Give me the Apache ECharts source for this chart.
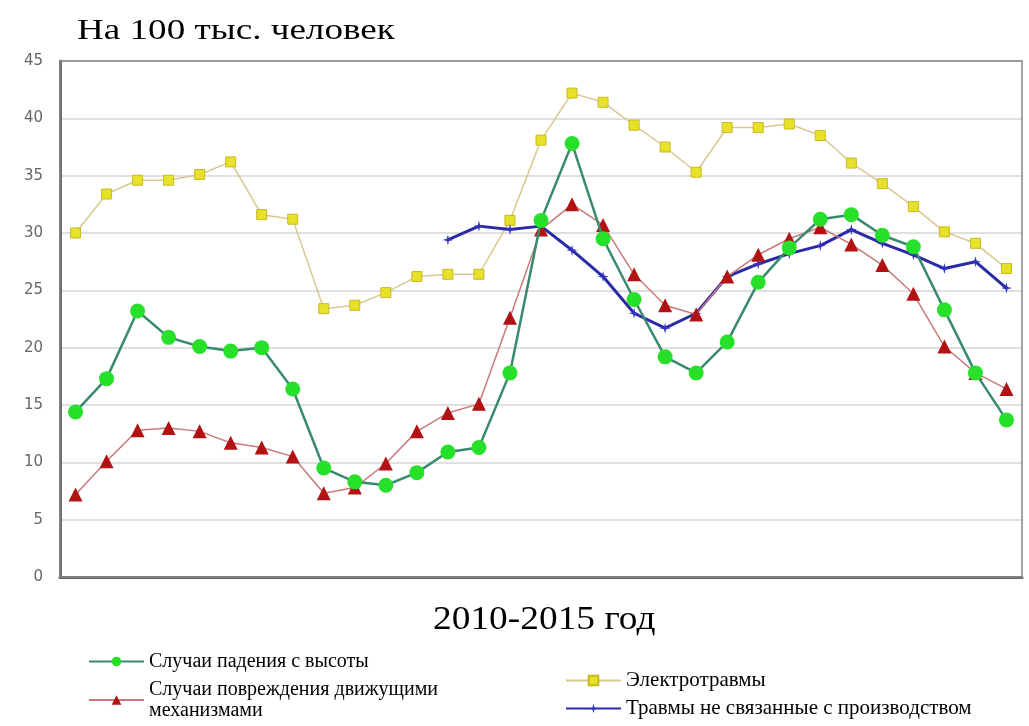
<!DOCTYPE html>
<html>
<head>
<meta charset="utf-8">
<script src="https://cdn.jsdelivr.net/npm/echarts@6/dist/echarts.min.js"></script>
<style>
  html, body { margin: 0; padding: 0; background: #fff; }
  #chart { width: 1029px; height: 726px; }
</style>
</head>
<body>
<div id="chart"></div>
<script>
// Observation periods, 2010-2015
const periods = ['1','2','3','4','5','6','7','8','9','10','11','12','13','14','15','16',
  '17','18','19','20','21','22','23','24','25','26','27','28','29','30','31'];

// Injuries per 100 thousand people
const falls = [14.4, 17.3, 23.2, 20.9, 20.1, 19.7, 20.0, 16.4, 9.5, 8.3, 8.0, 9.1, 10.9, 11.3,
  17.8, 31.1, 37.8, 29.5, 24.2, 19.2, 17.8, 20.5, 25.7, 28.7, 31.2, 31.6, 29.8, 28.8, 23.3, 17.8, 13.7];
const machinery = [7.2, 10.1, 12.8, 13.0, 12.7, 11.7, 11.3, 10.5, 7.3, 7.8, 9.9, 12.7, 14.3, 15.1,
  22.6, 30.3, 32.5, 30.7, 26.4, 23.7, 22.9, 26.2, 28.1, 29.5, 30.5, 29.0, 27.2, 24.7, 20.1, 17.8, 16.4];
const electric = [30.0, 33.4, 34.6, 34.6, 35.1, 36.2, 31.6, 31.2, 23.4, 23.7, 24.8, 26.2, 26.4, 26.4,
  31.1, 38.1, 42.2, 41.4, 39.4, 37.5, 35.3, 39.2, 39.2, 39.5, 38.5, 36.1, 34.3, 32.3, 30.1, 29.1, 26.9];
const nonWork = [null, null, null, null, null, null, null, null, null, null, null, null, 29.4, 30.6,
  30.3, 30.6, 28.5, 26.2, 23.0, 21.7, 23.0, 26.2, 27.3, 28.2, 28.9, 30.3, 29.1, 28.1, 26.9, 27.5, 25.2];

const yTicks = { min: 0, max: 45, interval: 5 };

const NAME_FALLS = 'Случаи падения с высоты';
const NAME_MACH = 'Случаи повреждения движущими механизмами';
const NAME_ELEC = 'Электротравмы';
const NAME_NONWORK = 'Травмы не связанные с производством';

const serif = '"Liberation Serif", "DejaVu Serif", serif';
const star = 'path://M5,0 L6,4 L10,5 L6,6 L5,10 L4,6 L0,5 L4,4 Z';

// one legend block per entry, so nothing wraps near the bottom edge
function legendItem(name, left, top, fontSize) {
  return {
    data: [name],
    orient: 'vertical', left: left, top: top, padding: 0,
    itemWidth: 55, itemHeight: 12,
    formatter: n => n === NAME_MACH ? 'Случаи повреждения движущими\nмеханизмами' : n,
    textStyle: { fontFamily: serif, fontSize: fontSize, color: '#000', lineHeight: 21 }
  };
}

const chart = echarts.init(document.getElementById('chart'), null, { renderer: 'canvas' });

chart.setOption({
  animation: false,
  backgroundColor: '#ffffff',
  graphic: [
    {
      type: 'text', x: 77, y: 17, scaleX: 1.28, scaleY: 1,
      style: { text: 'На 100 тыс. человек', font: '29px ' + serif, fill: '#000' }
    },
    {
      type: 'text', x: 433, y: 603, scaleX: 1.1, scaleY: 1,
      style: { text: '2010-2015 год', font: '34px ' + serif, fill: '#000' }
    },
    {
      // plot frame
      type: 'rect', shape: { x: 60, y: 61, width: 962, height: 516 },
      style: { fill: 'none', stroke: '#888', lineWidth: 1.5 }, z: 5
    }
  ],
  legend: [
    legendItem(NAME_FALLS, 88, 651, 20),
    legendItem(NAME_MACH, 88, 679, 20),
    legendItem(NAME_ELEC, 565, 670, 21),
    legendItem(NAME_NONWORK, 565, 698, 21)
  ],
  grid: { left: 60, right: 7, top: 61, bottom: 149, containLabel: false },
  xAxis: {
    type: 'category',
    data: periods,
    boundaryGap: true,
    axisLine: { show: true, lineStyle: { color: '#666', width: 3 } },
    axisTick: { show: false },
    axisLabel: { show: false },
    splitLine: { show: false }
  },
  yAxis: {
    type: 'value',
    min: yTicks.min, max: yTicks.max, interval: yTicks.interval,
    axisLine: { show: true, lineStyle: { color: '#666', width: 3 } },
    axisTick: { show: false },
    axisLabel: { color: '#666', fontFamily: '"DejaVu Sans", sans-serif', fontSize: 15, margin: 17 },
    splitLine: { show: true, lineStyle: { color: '#d4d4d4', width: 1.5 } }
  },
  series: [
    {
      name: NAME_ELEC, type: 'line', data: electric,
      symbol: 'rect', symbolSize: 10,
      lineStyle: { color: '#d8c890', width: 1.5 },
      itemStyle: { color: '#e6e22a', borderColor: '#cbb820', borderWidth: 1 },
      z: 2
    },
    {
      name: NAME_NONWORK, type: 'line', data: nonWork,
      symbol: star, symbolSize: 11,
      lineStyle: { color: '#2a2aa6', width: 3 },
      itemStyle: { color: '#3434c4' },
      z: 3
    },
    {
      name: NAME_MACH, type: 'line', data: machinery,
      symbol: 'triangle', symbolSize: 14,
      lineStyle: { color: '#c87a7a', width: 1.5 },
      itemStyle: { color: '#b31212' },
      z: 4
    },
    {
      name: NAME_FALLS, type: 'line', data: falls,
      symbol: 'circle', symbolSize: 15,
      lineStyle: { color: '#3a8a70', width: 2.5 },
      itemStyle: { color: '#26e02a' },
      z: 5
    }
  ]
});
</script>
</body>
</html>
